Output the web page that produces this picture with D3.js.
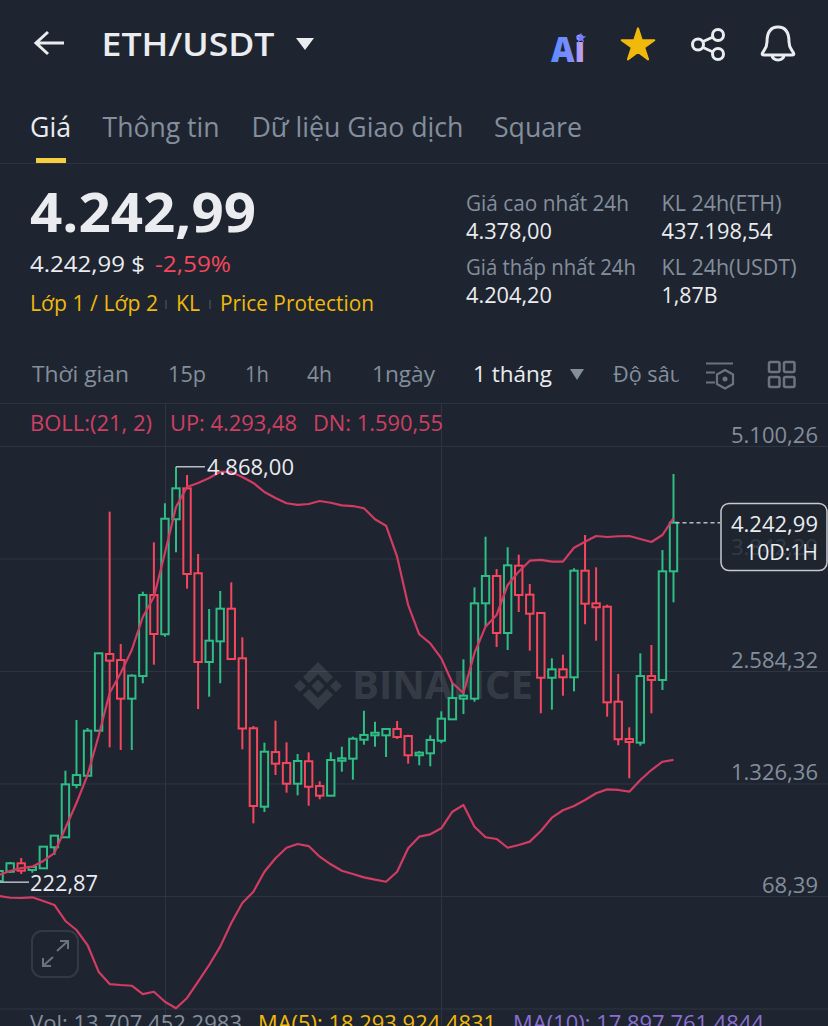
<!DOCTYPE html>
<html><head><meta charset="utf-8">
<script src="https://cdn.jsdelivr.net/npm/d3@7/dist/d3.min.js"></script>
<style>html,body{margin:0;padding:0;background:#1e2530;overflow:hidden}svg{display:block}text{font-family:"Open Sans","Noto Sans",sans-serif}</style>
</head><body><svg id="c" width="828" height="1026"></svg>
<script>
const opens=[236,340,434,359,378,613,725,1310,1413,1917,2774,2707,2275,2528,3434,2995,4281,4627,3677,2685,2916,3281,2726,1944,1067,1678,1556,1324,1575,1298,1190,1581,1604,1816,1865,1865,1936,1857,1642,1664,1805,2044,2275,2275,3341,3647,3009,3762,3438,3233,2509,2603,2514,3706,3341,3303,2241,1824,1783,2528,2484,3699];
const closes=[348,434,351,393,620,743,1317,1421,1917,2782,2700,2275,2532,3434,2998,4287,4627,3669,2685,2923,3281,2718,1941,1075,1682,1548,1324,1578,1290,1190,1589,1608,1827,1869,1894,1936,1846,1642,1671,1813,2051,2282,2308,3341,3647,3009,3766,3434,3225,2509,2603,2514,3706,3337,3297,2234,1821,1790,2528,2484,3699,4242.99];
const highs=[359,449,493,404,627,750,1470,2036,1947,2791,4366,2886,2547,3471,4023,4460,4868,4776,3893,3278,3479,3576,2961,1969,1783,2029,1787,1656,1675,1351,1675,1738,1850,2140,2017,1941,2025,1872,1690,1865,2134,2447,2715,3520,4086,3725,3968,3885,3557,3239,2726,2767,3733,4105,3744,3326,2551,1955,2782,2875,3937,4787];
const lows=[222.87,326,314,329,370,527,717,1273,1410,1908,1731,1701,1701,2447,2655,2968,3912,3505,2159,2297,2447,2707,1709,881,1008,1421,1224,1194,1078,1150,1186,1458,1369,1760,1738,1623,1824,1548,1530,1519,1776,2036,2103,2241,3080,2853,2819,3244,2811,2111,2152,2308,2357,3107,2923,2073,1754,1385,1749,2111,2372,3352];
const bollUp=[303,348,381,396,460,549,829,1108,1421,1857,2338,2562,2819,3188,3412,3904,4418,4642,4687,4742,4810,4810,4754,4687,4586,4519,4460,4441,4452,4485,4466,4437,4429,4404,4281,4209,3863,3322,2995,2894,2726,2450,2338,2786,3080,3211,3546,3695,3818,3826,3807,3807,3963,4030,4094,4083,4091,4094,4060,4027,4105,4293.48];
const bollDn=[68,49,46,54,12,-32,-211,-312,-480,-778,-916,-927,-935,-1028,-1002,-1114,-1187,-1072,-890,-703,-498,-234,-10,116,340,490,608,650,627,508,423,351,314,277,251,228,340,602,732,758,825,1011,1086,843,725,706,608,639,676,795,944,1027,1075,1142,1217,1261,1254,1235,1365,1477,1570,1590.55];
const priceTicks=[5100.26,3842.29,2584.32,1326.36,68.39,-1189.58];
const lastPrice=4242.99, maxPrice=4868, minPrice=222.87;
const candleIdx=d3.range(opens.length);
const GREEN="#2ebd85",RED="#f6465d",BOLL="#d23b62",GRID="#2f3540",GRAY="#848e9c",WHITE="#eaecef",YEL="#f0b90b";

const svg=d3.select("#c");
const defs=svg.append("defs");
const grad=defs.append("linearGradient").attr("id","ai").attr("x1",0).attr("x2",1).attr("y1",0).attr("y2",0);
grad.append("stop").attr("offset","0").attr("stop-color","#5a8dff");
grad.append("stop").attr("offset","0.6").attr("stop-color","#7f8cff");
grad.append("stop").attr("offset","1").attr("stop-color","#d6a6e8");
defs.append("clipPath").attr("id","depth").append("rect").attr("x",600).attr("y",350).attr("width",79).attr("height",50);

function T(s,x,y,size,color,w,len,weight,anchor){
  const t=svg.append("text").attr("x",x).attr("y",y).attr("font-size",size).attr("fill",color).text(s);
  if(w)t.attr("font-weight",w);
  if(len)t.attr("textLength",len).attr("lengthAdjust","spacingAndGlyphs");
  if(anchor)t.attr("text-anchor",anchor);
  return t;
}
const y=d3.scaleLinear().domain([5100.26,68.39]).range([446,896]);
const x=d3.scaleLinear().domain([0,61]).range([-0.9,673.5]);
const fmt=d3.formatLocale({decimal:",",thousands:".",grouping:[3],currency:["","$"]}).format(",.2f");

// header
svg.append("path").attr("d","M36 43H64M48 32L36 43L48 54").attr("fill","none").attr("stroke",WHITE).attr("stroke-width",3);
T("ETH/USDT",101.5,56,32,WHITE,600,173);
svg.append("path").attr("d","M296 38H314L305 50Z").attr("fill",WHITE);
T("Ai",551,62,35,"url(#ai)",800,34);
svg.append("path").attr("d",d3.symbol(d3.symbolStar,300)()).attr("transform","translate(581,38) scale(.34)").attr("fill","#6f7cff");
svg.append("path").attr("d",d3.symbol(d3.symbolStar,330)()).attr("transform","translate(638,45.5)").attr("fill",YEL).attr("stroke",YEL).attr("stroke-width",2).attr("stroke-linejoin","round");
svg.append("path").attr("d","M702 42L713 37M702 47L713 52").attr("stroke",WHITE).attr("stroke-width",3);
[[718,35],[698,44.5],[718,54]].forEach(p=>svg.append("circle").attr("cx",p[0]).attr("cy",p[1]).attr("r",5.5).attr("fill","none").attr("stroke",WHITE).attr("stroke-width",3));
svg.append("path").attr("d","M778 27C769 27 767 35 767 42C767 48 764 50 762.5 53Q761.500 55 764 55H792Q794.500 55 793.500 53C792 50 789 48 789 42C789 35 787 27 778 27ZM772 55A6 5 0 0 0 784 55").attr("fill","none").attr("stroke",WHITE).attr("stroke-width",3);

// tabs
T("Giá",30,137,27,WHITE,500,41);
T("Thông tin",102.5,137,27,GRAY,500,117);
T("Dữ liệu Giao dịch",251.5,137,27,GRAY,500,212);
T("Square",494,137,27,GRAY,500,88);
svg.append("rect").attr("x",36).attr("y",158).attr("width",30).attr("height",5).attr("fill","#f5ce42");
svg.append("line").attr("x1",0).attr("x2",828).attr("y1",163.500).attr("y2",163.500).attr("stroke",GRID);

// price
T("4.242,99",30,232,54,WHITE,700,226);
T("4.242,99 $",30,272,22,WHITE,500,115);
T("-2,59%",155,272,22,RED,500,76);
T("Lớp 1 / Lớp 2",30,311,21,YEL,500,128);
T("KL",176,311,21,YEL,500,24);
T("Price Protection",220,311,21,YEL,500,154);
[166,210].forEach(a=>svg.append("line").attr("x1",a).attr("x2",a).attr("y1",300).attr("y2",309).attr("stroke","#3a404a").attr("stroke-width",2));
T("Giá cao nhất 24h",466,211,21,GRAY,400,163);
T("4.378,00",466,239,21,WHITE,400,86);
T("Giá thấp nhất 24h",466,275,21,GRAY,400,170);
T("4.204,20",466,303,21,WHITE,400,86);
T("KL 24h(ETH)",661.5,211,21,GRAY,400,120);
T("437.198,54",661.5,239,21,WHITE,400,111);
T("KL 24h(USDT)",661.5,275,21,GRAY,400,135);
T("1,87B",661.5,303,21,WHITE,400,56);

// intervals
T("Thời gian",32,382,22,GRAY,400,97);
T("15p",168,382,22,GRAY,400,38);
T("1h",245,382,22,GRAY,400,24);
T("4h",307,382,22,GRAY,400,25);
T("1ngày",372,382,22,GRAY,400,63);
T("1 tháng",473,382,22,WHITE,500,79);
svg.append("path").attr("d","M570 369H584L577 380Z").attr("fill",GRAY);
T("Độ sâu",613,382,22,GRAY,400,70).attr("clip-path","url(#depth)");
svg.append("path").attr("d","M706 363.500H733M706 372.500H715M706 382.500H715M725 370L733 374.500V384L725 388.500L717 384V374.500Z").attr("fill","none").attr("stroke","#6d7480").attr("stroke-width",2.2);
svg.append("circle").attr("cx",725).attr("cy",379).attr("r",2.500).attr("fill","#6d7480");
[[769,362],[784,362],[769,377],[784,377]].forEach(p=>svg.append("rect").attr("x",p[0]).attr("y",p[1]).attr("width",10.500).attr("height",10).attr("rx",1.500).attr("fill","none").attr("stroke","#6d7480").attr("stroke-width",2.500));

// grid
svg.append("line").attr("x1",0).attr("x2",828).attr("y1",403.500).attr("y2",403.500).attr("stroke",GRID);
[165.500,441.500].forEach(a=>svg.append("line").attr("x1",a).attr("x2",a).attr("y1",403).attr("y2",1026).attr("stroke",GRID));
const axis=d3.axisLeft(y).tickValues(priceTicks).tickSize(828).tickFormat(d=>d<0?"":fmt(d));
const gA=svg.append("g").attr("transform","translate(828,0)").call(axis);
gA.select(".domain").remove();
gA.selectAll("line").attr("stroke",GRID);
gA.selectAll("text").attr("x",-10).attr("dy",null).attr("y",-4).attr("text-anchor","end").attr("font-size",21.5).attr("font-family",'"Open Sans"').attr("fill",GRAY).attr("textLength",87).attr("lengthAdjust","spacingAndGlyphs");
gA.selectAll("text").filter(d=>d===68.39).attr("textLength",56);

// watermark
const wm=svg.append("g").attr("fill","#ffffff").attr("opacity",.1);
wm.append("path").attr("d","M318 662L333 677L327 683L318 674L309 683L303 677ZM318 710L333 695L327 689L318 698L309 689L303 695ZM300 680L306 686L300 692L294 686ZM336 680L342 686L336 692L330 686ZM318 679.500L324.500 686L318 692.500L311.500 686Z");
wm.append("text").attr("x",352).attr("y",699).attr("font-size",40).attr("font-weight",700).attr("textLength",181).attr("lengthAdjust","spacingAndGlyphs").text("BINANCE");

// candles
const col=i=>closes[i]>=opens[i]?GREEN:RED;
const cg=svg.append("g").selectAll("g").data(candleIdx).join("g").attr("stroke",col).attr("stroke-width",2);
cg.append("line").attr("x1",x).attr("x2",x).attr("y1",i=>y(highs[i])).attr("y2",i=>y(Math.max(opens[i],closes[i])));
cg.append("line").attr("x1",x).attr("x2",x).attr("y1",i=>y(Math.min(opens[i],closes[i]))).attr("y2",i=>y(lows[i]));
cg.append("rect").attr("x",i=>x(i)-3.700).attr("width",7.400).attr("y",i=>y(Math.max(opens[i],closes[i]))).attr("height",i=>Math.abs(y(opens[i])-y(closes[i]))).attr("fill","#1e2530");

// bollinger
const ln=a=>d3.line().x(i=>x(i)).y(i=>y(a[i]))(candleIdx);
[bollUp,bollDn].forEach(a=>svg.append("path").attr("d",ln(a)).attr("fill","none").attr("stroke",BOLL).attr("stroke-width",2.2).attr("stroke-linejoin","round"));

// legends
T("BOLL:(21, 2)",30,431,21,"#cf3f62",400,122);
T("UP: "+fmt(bollUp[61]),170,431,21,"#cf3f62",400,127);
T("DN: "+fmt(bollDn[61]),313,431,21,"#cf3f62",400,130);

// extreme labels
svg.append("path").attr("d",`M${x(16)} ${y(maxPrice)}H205`).attr("stroke","#b7bdc6").attr("stroke-width",1.5).attr("fill","none");
T(fmt(maxPrice),207,475,21.5,WHITE,400,87);
svg.append("line").attr("x1",0).attr("x2",29).attr("y1",y(minPrice)).attr("y2",y(minPrice)).attr("stroke","#b7bdc6").attr("stroke-width",1.5);
T(fmt(minPrice),30,891,21.5,WHITE,400,68);

// last price
svg.append("line").attr("x1",x(61)+2).attr("x2",720).attr("y1",y(lastPrice)).attr("y2",y(lastPrice)).attr("stroke","#b7bdc6").attr("stroke-width",1.5).attr("stroke-dasharray","4 3");
svg.append("rect").attr("x",721).attr("y",503.500).attr("width",106).attr("height",67).attr("rx",8).attr("fill","#1e2530").attr("fill-opacity",.8).attr("stroke","#c5cad1").attr("stroke-width",1.5);
T(fmt(lastPrice),818,532,21.5,WHITE,400,87,null,"end");
T("10D:1H",818,560,21.5,WHITE,400,73,null,"end");

// expand button
svg.append("rect").attr("x",32).attr("y",931).attr("width",46).attr("height",46).attr("rx",10).attr("fill","none").attr("stroke","#343a45").attr("stroke-width",2);
svg.append("path").attr("d","M57 951L68 941M60 941H68V949M53 957L43 966M43 958V966H51").attr("fill","none").attr("stroke","#6b7280").attr("stroke-width",2);

// footer
T("Vol: 13.707.452,2983",30,1031,21,GRAY,400,212);
T("MA(5): 18.293.924,4831",258,1031,21,YEL,400,238);
T("MA(10): 17.897.761,4844",513,1031,21,"#8a6fd1",400,251);
</script></body></html>
